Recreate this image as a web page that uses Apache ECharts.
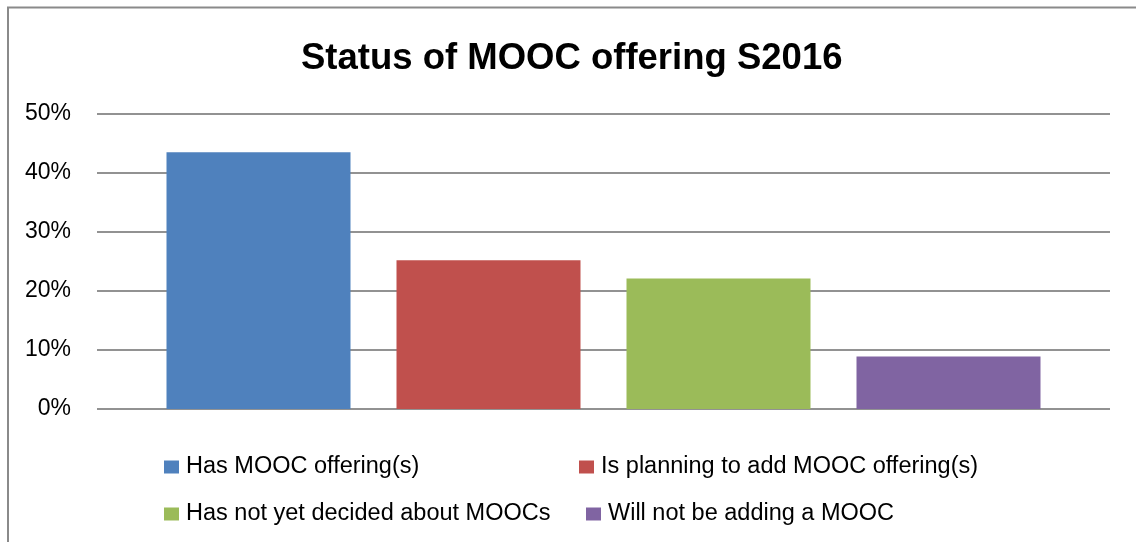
<!DOCTYPE html>
<html>
<head>
<meta charset="utf-8">
<script src="https://cdn.jsdelivr.net/npm/echarts@6/dist/echarts.min.js"></script>
<style>
  html, body { margin: 0; padding: 0; background: #fff; }
  #main { width: 1136px; height: 542px; }
</style>
</head>
<body>
<div id="main"></div>
<script>
const chartTitle = 'Status of MOOC offering S2016'
const categories = ['S2016']
const seriesNames = [
  'Has MOOC offering(s)',
  'Is planning to add MOOC offering(s)',
  'Has not yet decided about MOOCs',
  'Will not be adding a MOOC'
]
const seriesValues = [43.5, 25.2, 22.1, 8.9]
const yMin = 0
const yMax = 50
const yStep = 10

const palette = ['#4f81bd', '#c0504d', '#9bbb59', '#8064a2']
const font = '"Liberation Sans", Arial, sans-serif'

const myChart = echarts.init(document.getElementById('main'))

// excel-style legend: two columns, two rows
const legendSpots = [[164, 455], [579, 455], [164, 502], [586, 502]]
const legend = seriesNames.map((name, i) => ({
  data: [name],
  left: legendSpots[i][0],
  top: legendSpots[i][1],
  padding: 0,
  icon: 'rect',
  itemWidth: 15,
  itemHeight: 13,
  selectedMode: false,
  textStyle: { fontFamily: font, fontSize: 23.5, color: '#000', padding: [0, 0, 0, 2] }
}))

const series = seriesNames.map((name, i) => ({
  name,
  type: 'bar',
  data: [seriesValues[i]],
  barWidth: 184,
  barGap: '25%',
  itemStyle: { color: palette[i] }
}))

myChart.setOption({
  animation: false,
  title: {
    text: chartTitle,
    left: 296,
    top: 35,
    textStyle: { fontFamily: font, fontSize: 36.5, fontWeight: 'bold', color: '#000' }
  },
  legend,
  grid: { left: 97, right: 26, top: 114, bottom: 133, containLabel: false },
  xAxis: {
    type: 'category',
    data: categories,
    axisLine: { show: false },
    axisTick: { show: false },
    axisLabel: { show: false }
  },
  yAxis: {
    type: 'value',
    min: yMin,
    max: yMax,
    interval: yStep,
    axisLine: { show: false },
    axisTick: { show: false },
    axisLabel: {
      formatter: '{value}%',
      margin: 26,
      fontFamily: font,
      fontSize: 23,
      color: '#000'
    },
    splitLine: { lineStyle: { color: '#929292', width: 2 } }
  },
  series,
  graphic: [{
    type: 'rect',
    shape: { x: 8, y: 7.5, width: 1400, height: 800 },
    style: { fill: 'none', stroke: '#8a8a8a', lineWidth: 2 },
    silent: true
  }]
})
</script>
</body>
</html>
